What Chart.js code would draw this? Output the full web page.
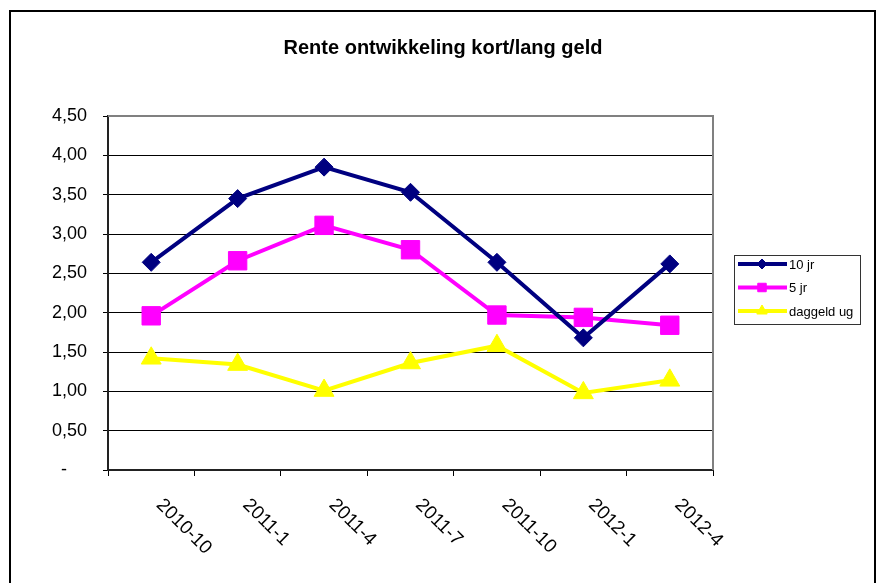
<!DOCTYPE html>
<html>
<head>
<meta charset="utf-8">
<script src="https://cdn.jsdelivr.net/npm/chart.js@4.4.1/dist/chart.umd.min.js"></script>
<style>
  html, body { margin: 0; padding: 0; background: #fff; }
  canvas { display: block; }
</style>
</head>
<body>
<canvas id="renteChart" width="882" height="583"></canvas>
<script>
const categories = ['2010-10', '2011-1', '2011-4', '2011-7', '2011-10', '2012-1', '2012-4'];
const tienJaar = [2.64, 3.45, 3.85, 3.53, 2.64, 1.68, 2.62];
const vijfJaar = [1.96, 2.66, 3.11, 2.80, 1.97, 1.94, 1.84];
const daggeld = [1.42, 1.34, 1.01, 1.36, 1.58, 0.98, 1.14];
const seriesLabels = ['10 jr', '5 jr', 'daggeld ug'];
const chartTitle = 'Rente ontwikkeling kort/lang geld';
const yMin = 0;
const yMax = 4.5;
const yStep = 0.5;

const FONT = "'Liberation Sans', Arial, sans-serif";
Chart.defaults.font.family = FONT;
Chart.defaults.color = '#000';

// title, outer frame, plot border, rotated x labels and excel-like legend
const excelLook = {
    id: 'excelLook',
    beforeDatasetsDraw(chart) {
        const { ctx, chartArea } = chart;
        ctx.save();
        ctx.strokeStyle = '#808080';
        ctx.lineWidth = 2;
        ctx.beginPath();
        ctx.moveTo(chartArea.left, chartArea.top);
        ctx.lineTo(chartArea.right, chartArea.top);
        ctx.lineTo(chartArea.right, chartArea.bottom);
        ctx.stroke();
        ctx.restore();
    },
    afterDraw(chart) {
        const { ctx } = chart;
        const xScale = chart.scales.x;
        ctx.save();

        // outer frame
        ctx.strokeStyle = '#000';
        ctx.lineWidth = 2;
        ctx.strokeRect(10, 11, 865, 600);

        // title
        ctx.fillStyle = '#000';
        ctx.font = 'bold 20px ' + FONT;
        ctx.textAlign = 'center';
        ctx.textBaseline = 'alphabetic';
        ctx.fillText(chartTitle, 443, 54);

        // x labels, rotated clockwise
        ctx.font = '19px ' + FONT;
        ctx.textAlign = 'left';
        ctx.textBaseline = 'middle';
        categories.forEach((label, i) => {
            const x = xScale.getPixelForTick(i);
            ctx.save();
            ctx.translate(x + 8, chart.chartArea.bottom + 32);
            ctx.rotate(Math.PI / 4);
            ctx.fillText(label, 0, 0);
            ctx.restore();
        });

        // legend
        ctx.strokeStyle = '#333';
        ctx.lineWidth = 1;
        ctx.strokeRect(734.5, 255.5, 126, 69);
        ctx.font = '13px ' + FONT;
        const rows = [264, 287.5, 311];
        chart.data.datasets.forEach((ds, i) => {
            const y = rows[i];
            ctx.strokeStyle = ds.borderColor;
            ctx.lineWidth = 4;
            ctx.beginPath();
            ctx.moveTo(738, y);
            ctx.lineTo(787, y);
            ctx.stroke();
            ctx.fillStyle = ds.pointBackgroundColor;
            ctx.strokeStyle = ds.pointBorderColor;
            ctx.lineWidth = 1;
            Chart.helpers.drawPoint(ctx, {
                pointStyle: ds.pointStyle,
                radius: ds.legendRadius,
                rotation: 0,
                borderWidth: 1
            }, 762, y);
            ctx.fillStyle = '#000';
            ctx.fillText(ds.label, 789, y + 1);
        });

        ctx.restore();
    }
};

new Chart(document.getElementById('renteChart'), {
    type: 'line',
    data: {
        labels: categories,
        datasets: [
            {
                label: seriesLabels[0],
                data: tienJaar,
                borderColor: '#000080',
                borderWidth: 4,
                pointStyle: 'rectRot',
                pointRadius: 9,
                pointHoverRadius: 9,
                pointBackgroundColor: '#000080',
                pointBorderColor: '#000080',
                pointBorderWidth: 1,
                legendRadius: 5,
                tension: 0,
                fill: false
            },
            {
                label: seriesLabels[1],
                data: vijfJaar,
                borderColor: '#FF00FF',
                borderWidth: 4,
                pointStyle: 'rect',
                pointRadius: 13,
                pointHoverRadius: 13,
                pointBackgroundColor: '#FF00FF',
                pointBorderColor: '#FF00FF',
                pointBorderWidth: 1,
                legendRadius: 6,
                tension: 0,
                fill: false
            },
            {
                label: seriesLabels[2],
                data: daggeld,
                borderColor: '#FFFF00',
                borderWidth: 4,
                pointStyle: 'triangle',
                pointRadius: 11.5,
                pointHoverRadius: 11.5,
                pointBackgroundColor: '#FFFF00',
                pointBorderColor: '#FFFF00',
                pointBorderWidth: 1,
                legendRadius: 6,
                tension: 0,
                fill: false
            }
        ]
    },
    options: {
        responsive: false,
        animation: false,
        layout: {
            padding: { left: 8, right: 169, top: 116, bottom: 8 }
        },
        plugins: {
            legend: { display: false },
            title: { display: false },
            tooltip: { enabled: false }
        },
        scales: {
            x: {
                offset: true,
                grid: {
                    offset: true,
                    drawOnChartArea: false,
                    drawTicks: true,
                    tickLength: 6,
                    tickColor: '#000',
                    color: '#000'
                },
                border: { color: '#222', width: 2 },
                ticks: { display: false },
                afterFit(scale) {
                    scale.height = 105;
                }
            },
            y: {
                min: yMin,
                max: yMax,
                grid: {
                    color: (c) => (c.tick && c.tick.value === yMax ? 'rgba(0,0,0,0)' : '#000'),
                    lineWidth: 1,
                    tickLength: 5,
                    tickColor: '#000'
                },
                border: { color: '#222', width: 2 },
                ticks: {
                    stepSize: yStep,
                    padding: 16,
                    font: { size: 18 },
                    color: '#000',
                    callback: (v) => (v === 0 ? '-    ' : v.toFixed(2).replace('.', ','))
                },
                afterFit(scale) {
                    scale.width = 100;
                }
            }
        }
    },
    plugins: [excelLook]
});
</script>
</body>
</html>
